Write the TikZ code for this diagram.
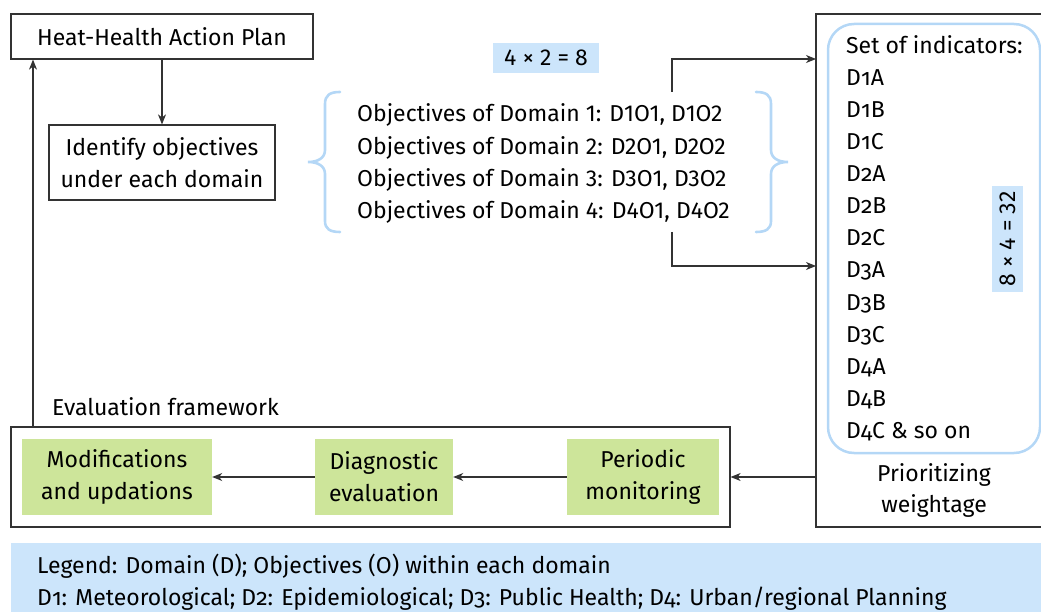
\documentclass[tikz,border=0pt]{standalone}
\usepackage{fontspec}
\setmainfont{Fira Sans}
\newfontfamily\osf{Fira Sans}[Numbers=OldStyle]
\usetikzlibrary{arrows.meta}
\definecolor{edge}{HTML}{333333}
\definecolor{skyfill}{HTML}{CCE5FB}
\definecolor{skyline}{HTML}{B4D7F6}
\definecolor{leaf}{HTML}{CDE59A}

\begin{document}
\begin{tikzpicture}[x=1pt,y=-1pt,
  font=\fontsize{23}{32}\selectfont,
  frame/.style={draw=edge, line width=1.2pt, inner sep=0pt, align=center},
  arr/.style={draw=edge, line width=1.2pt, -{Stealth[length=10pt,width=8pt,inset=3pt]}},
  line/.style={inner sep=0pt, anchor=base west},
  cline/.style={inner sep=0pt, anchor=base},
  leafbox/.style={fill=leaf, inner sep=0pt, align=center, minimum height=76pt},
  skybox/.style={fill=skyfill, inner sep=0pt},
  brace/.style={draw=skyline, line width=2.6pt, line cap=round},
]
\useasboundingbox (0,0) rectangle (1041,612);

% top-left boxes
\node[frame, minimum width=302pt, minimum height=45pt] (hhap) at (162,36.5) {Heat-Health Action Plan};
\node[frame, minimum width=226pt, minimum height=75pt] (ident) at (162,162.5) {Identify objectives\\under each domain};
\draw[arr] (hhap.south) -- (ident.north);

% objectives per domain
\node[skybox, minimum width=106pt, minimum height=30pt] (calc1) at (546,58) {4 × 2 = 8};
\foreach \d/\y in {1/122,2/154.5,3/187,4/219}
  \node[line] (obj\d) at (357,\y) {Objectives of Domain \d: D\d O1, D\d O2};
\draw[brace] (340,92) .. controls (330,92) and (325,95) .. (325,104) -- (325,150)
  .. controls (325,158) and (318,162) .. (308,162)
  .. controls (318,162) and (325,166) .. (325,174) -- (325,221)
  .. controls (325,229) and (330,232) .. (340,232);
\draw[brace] (756,92) .. controls (766,92) and (771,95) .. (771,104) -- (771,150)
  .. controls (771,158) and (778,162) .. (788,162)
  .. controls (778,162) and (771,166) .. (771,174) -- (771,221)
  .. controls (771,229) and (766,232) .. (756,232);

% indicator panel
\node[frame, minimum width=227pt, minimum height=513pt] (rbox) at (929.5,270.5) {};
\node[draw=skyline, line width=2.5pt, rounded corners=26pt, minimum width=212pt, minimum height=429pt] (ind) at (934,238.5) {};
\node[line] (indhead) at (846,54) {Set of indicators:};
\foreach \t [count=\i] in {D1A,D1B,D1C,D2A,D2B,D2C,D3A,D3B,D3C,D4A,D4B,D4C \& so on}
  \node[line] (ind\i) at (846,{86+32.0*(\i-1)}) {\osf \t};
\node[skybox, rotate=90, minimum width=106pt, minimum height=31pt] (calc2) at (1007.5,239) {8 × 4 = 32};
\node[cline] (prio1) at (934,481) {Prioritizing};
\node[cline] (prio2) at (934,512) {weightage};

\coordinate (objtop) at (672,92);
\coordinate (objbot) at (672,232);
\coordinate (inA) at (816,59);
\coordinate (inB) at (816,266);
\draw[arr] (objtop) |- (inA);
\draw[arr] (objbot) |- (inB);

% evaluation framework
\node[line] (evtitle) at (52,415) {Evaluation framework};
\node[frame, minimum width=719pt, minimum height=100pt] (evalbox) at (370.5,477) {};
\node[leafbox, minimum width=190pt] (mods) at (117,477) {Modifications\\and updations};
\node[leafbox, minimum width=138pt] (diag) at (384,477) {Diagnostic\\evaluation};
\node[leafbox, minimum width=152pt] (peri) at (643,477) {Periodic\\monitoring};
\draw[arr] (rbox.west |- evalbox.east) -- (evalbox.east);
\draw[arr] (peri.west) -- (diag.east);
\draw[arr] (diag.west) -- (mods.east);
\coordinate (lx) at (33,0);
\draw[arr] (lx |- evalbox.north) -- (lx |- hhap.south);

% legend
\node[skybox, minimum width=1030pt, minimum height=69pt] (legend) at (526,577.5) {};
\node[line] (leg1) at (37,573) {\osf Legend: Domain (D); Objectives (O) within each domain};
\node[line] (leg2) at (37,605) {\osf D1: Meteorological; D2: Epidemiological; D3: Public Health; D4: Urban/regional Planning};
\end{tikzpicture}
\end{document}
